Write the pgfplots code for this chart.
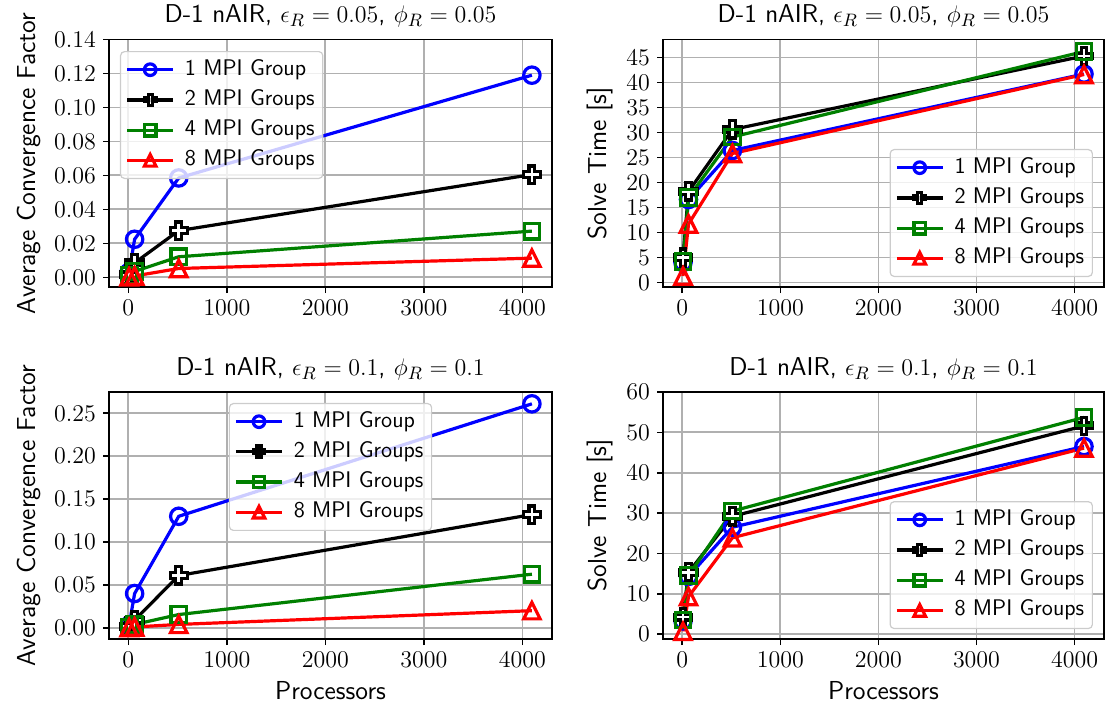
\documentclass[border=0pt]{standalone}
\usepackage{pgfplots}
\pgfplotsset{compat=1.18}
\definecolor{mblue}{RGB}{0,0,255}
\definecolor{mgreen}{RGB}{0,128,0}
\definecolor{mred}{RGB}{255,0,0}
\definecolor{gridc}{HTML}{B0B0B0}
\pgfdeclareplotmark{Pplus}{%
  \pgfpathmoveto{\pgfpoint{-0.333\pgfplotmarksize}{\pgfplotmarksize}}%
  \pgfpathlineto{\pgfpoint{0.333\pgfplotmarksize}{\pgfplotmarksize}}%
  \pgfpathlineto{\pgfpoint{0.333\pgfplotmarksize}{0.333\pgfplotmarksize}}%
  \pgfpathlineto{\pgfpoint{\pgfplotmarksize}{0.333\pgfplotmarksize}}%
  \pgfpathlineto{\pgfpoint{\pgfplotmarksize}{-0.333\pgfplotmarksize}}%
  \pgfpathlineto{\pgfpoint{0.333\pgfplotmarksize}{-0.333\pgfplotmarksize}}%
  \pgfpathlineto{\pgfpoint{0.333\pgfplotmarksize}{-\pgfplotmarksize}}%
  \pgfpathlineto{\pgfpoint{-0.333\pgfplotmarksize}{-\pgfplotmarksize}}%
  \pgfpathlineto{\pgfpoint{-0.333\pgfplotmarksize}{-0.333\pgfplotmarksize}}%
  \pgfpathlineto{\pgfpoint{-\pgfplotmarksize}{-0.333\pgfplotmarksize}}%
  \pgfpathlineto{\pgfpoint{-\pgfplotmarksize}{0.333\pgfplotmarksize}}%
  \pgfpathlineto{\pgfpoint{-0.333\pgfplotmarksize}{0.333\pgfplotmarksize}}%
  \pgfpathclose\pgfusepathqfillstroke}
\pgfdeclareplotmark{mtri}{%
  \pgfpathmoveto{\pgfpoint{0pt}{\pgfplotmarksize}}%
  \pgfpathlineto{\pgfpoint{-\pgfplotmarksize}{-\pgfplotmarksize}}%
  \pgfpathlineto{\pgfpoint{\pgfplotmarksize}{-\pgfplotmarksize}}%
  \pgfpathclose\pgfusepathqstroke}
\pgfplotsset{
  every axis/.append style={
    scale only axis,
    xmin=-196, xmax=4300,
    xtick={0,1000,2000,3000,4000},
    /pgf/number format/1000 sep={},
    grid=major,
    major grid style={gridc, line width=0.9pt},
    axis line style={black, line width=0.8pt},
    tick style={black, line width=0.8pt},
    major tick length=3pt,
    tick align=outside,
    xtick pos=bottom, ytick pos=left,
    ticklabel style={font=\fontsize{12.5}{13}\selectfont},
    label style={font=\sffamily\fontsize{13}{15}\selectfont},
    title style={font=\sffamily\fontsize{12.9}{14}\selectfont, yshift=-3.5pt},
    legend cell align=left,
    legend style={draw=black!20, rounded corners=2pt, fill=white, fill opacity=0.8, text opacity=1,
      line width=0.6pt,
      font=\sffamily\fontsize{11.3}{12}\selectfont,
      nodes={inner sep=1.6pt, text height=7.7pt, text depth=2.2pt},
      row sep=2.0pt, column sep=3.5pt, inner xsep=2.5pt, inner ysep=2.5pt},
    legend image code/.code={\draw[mark repeat=2,mark phase=2,mark size=2.9pt] plot coordinates {(0pt,0pt)(11.5pt,0pt)(23pt,0pt)};},
  },
  s1/.style={color=mblue, line width=1.6pt, mark=o, mark size=4.1pt, mark options={solid}},
  s2/.style={color=black, line width=1.6pt, mark=Pplus, mark size=4.3pt, mark options={fill=white}},
  s3/.style={color=mgreen, line width=1.6pt, mark=square, mark size=3.9pt},
  s4/.style={color=mred, line width=1.6pt, mark=mtri, mark size=4.1pt},
}
\begin{document}
\begin{tikzpicture}
\path[use as bounding box] (0,0) rectangle (553.5pt,359.5pt);
% top-left
\begin{axis}[at={(54.5pt,216pt)}, anchor=south west, width=221.5pt, height=123.75pt,
  ymin=-0.0057, ymax=0.14, ytick={0,0.02,...,0.14},
  yticklabel style={/pgf/number format/fixed, /pgf/number format/fixed zerofill, /pgf/number format/precision=2},
  ylabel={Average Convergence Factor},
  title={D-1 nAIR, $\epsilon_R=0.05$, $\phi_R=0.05$},
  legend style={at={(0.0248,0.9535)}, anchor=north west}]
\addplot[s1] coordinates {(8,0.003)(64,0.0224)(512,0.0585)(4096,0.119)};
\addplot[s2] coordinates {(8,0.0015)(64,0.0085)(512,0.0275)(4096,0.0605)};
\addplot[s3] coordinates {(8,0.001)(64,0.0035)(512,0.0121)(4096,0.0272)};
\addplot[s4] coordinates {(8,0.0003)(64,0.0008)(512,0.0052)(4096,0.0113)};
\legend{1 MPI Group,2 MPI Groups,4 MPI Groups,8 MPI Groups}
\end{axis}
% top-right
\begin{axis}[at={(331.5pt,216pt)}, anchor=south west, width=220.5pt, height=123.75pt,
  ymin=-0.9, ymax=48.6, ytick={0,5,...,45},
  ylabel={Solve Time [s]},
  title={D-1 nAIR, $\epsilon_R=0.05$, $\phi_R=0.05$},
  legend style={at={(0.975,0.0404)}, anchor=south east}]
\addplot[s1] coordinates {(8,4.0)(64,16.6)(512,26.4)(4096,41.7)};
\addplot[s2] coordinates {(8,5.0)(64,18.2)(512,30.6)(4096,45.3)};
\addplot[s3] coordinates {(8,4.2)(64,17.0)(512,29.1)(4096,46.2)};
\addplot[s4] coordinates {(8,1.3)(64,11.7)(512,25.8)(4096,41.6)};
\legend{1 MPI Group,2 MPI Groups,4 MPI Groups,8 MPI Groups}
\end{axis}
% bottom-left
\begin{axis}[at={(54.5pt,40pt)}, anchor=south west, width=221.5pt, height=123.5pt,
  ymin=-0.013, ymax=0.2748, ytick={0,0.05,...,0.25},
  yticklabel style={/pgf/number format/fixed, /pgf/number format/fixed zerofill, /pgf/number format/precision=2},
  ylabel={Average Convergence Factor}, xlabel={Processors},
  title={D-1 nAIR, $\epsilon_R=0.1$, $\phi_R=0.1$},
  legend style={at={(0.5,0.9555)}, anchor=north}]
\addplot[s1] coordinates {(8,0.003)(64,0.040)(512,0.130)(4096,0.261)};
\addplot[s2] coordinates {(8,0.002)(64,0.009)(512,0.061)(4096,0.132)};
\addplot[s3] coordinates {(8,0.001)(64,0.004)(512,0.0155)(4096,0.0625)};
\addplot[s4] coordinates {(8,0.0003)(64,0.001)(512,0.004)(4096,0.020)};
\legend{1 MPI Group,2 MPI Groups,4 MPI Groups,8 MPI Groups}
\end{axis}
% bottom-right
\begin{axis}[at={(331.5pt,40pt)}, anchor=south west, width=220.5pt, height=123.5pt,
  ymin=-1.2, ymax=60, ytick={0,10,...,60},
  ylabel={Solve Time [s]}, xlabel={Processors},
  title={D-1 nAIR, $\epsilon_R=0.1$, $\phi_R=0.1$},
  legend style={at={(0.975,0.04)}, anchor=south east}]
\addplot[s1] coordinates {(8,3.3)(64,14.3)(512,26.5)(4096,46.5)};
\addplot[s2] coordinates {(8,4.2)(64,15.3)(512,29.2)(4096,51.6)};
\addplot[s3] coordinates {(8,3.5)(64,14.5)(512,30.5)(4096,53.7)};
\addplot[s4] coordinates {(8,0.7)(64,9.3)(512,23.9)(4096,46.1)};
\legend{1 MPI Group,2 MPI Groups,4 MPI Groups,8 MPI Groups}
\end{axis}
\end{tikzpicture}
\end{document}
